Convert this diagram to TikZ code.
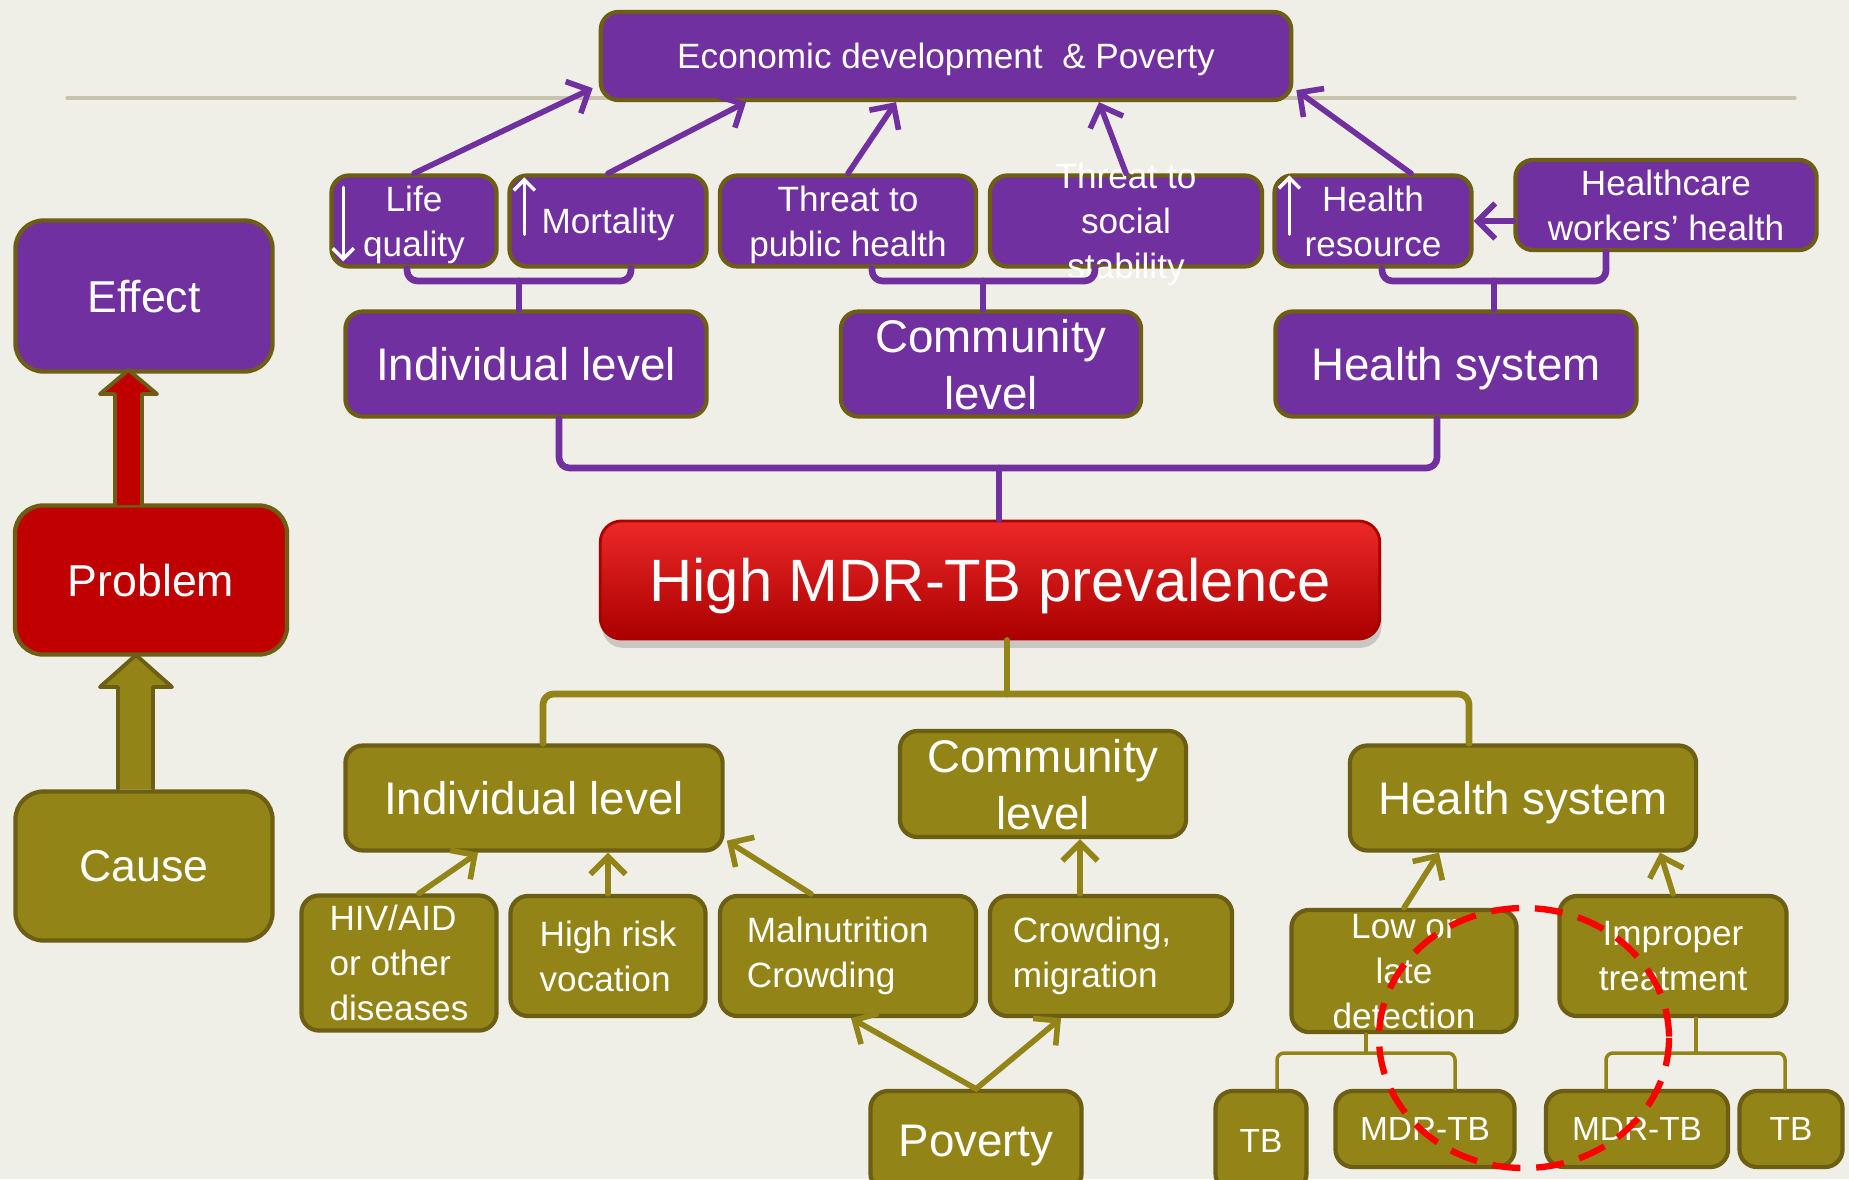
\documentclass[tikz,border=0pt]{standalone}
\usepackage{fontspec}
\setmainfont{Liberation Sans}
\usepackage{tikz}
\usetikzlibrary{arrows.meta,calc,shadows}

\definecolor{purp}{RGB}{112,48,160}
\definecolor{oliv}{RGB}{147,132,24}
\definecolor{rim}{RGB}{108,94,18}
\definecolor{probred}{RGB}{192,0,0}
\definecolor{hiTop}{RGB}{236,40,40}
\definecolor{hiMid}{RGB}{220,0,0}
\definecolor{hiBot}{RGB}{170,0,0}
\definecolor{paper}{RGB}{239,238,231}
\definecolor{rulegray}{RGB}{200,195,172}

\begin{document}
\begin{tikzpicture}[x=0.01cm,y=-0.01cm,line cap=round,line join=round,
    boxbase/.style={draw=rim,line width=1.2pt,rounded corners=5pt,text=white,align=center,inner sep=0pt,text depth=0pt},
    pbox/.style={boxbase,fill=purp},
    obox/.style={boxbase,fill=oliv},
    txtS/.style={font=\fontsize{10}{12.8}\selectfont},
    txtL/.style={font=\fontsize{13}{16.2}\selectfont},
    txtT/.style={font=\fontsize{9.5}{12}\selectfont},
    txtSide/.style={font=\fontsize{12.7}{15}\selectfont,rounded corners=8pt},
    hbox/.style={draw=hiBot,line width=0.8pt,rounded corners=6pt,text=white,inner sep=0pt,text depth=0pt,
      top color=hiTop,middle color=hiMid,bottom color=hiBot,
      drop shadow={opacity=0.35,shadow xshift=0.5pt,shadow yshift=-2.5pt},
      font=\fontsize{17}{20}\selectfont},
    pline/.style={draw=purp,line width=1.9pt,rounded corners=3pt},
    oline/.style={draw=oliv,line width=1.9pt,rounded corners=3pt},
    othin/.style={draw=oliv,line width=1pt,rounded corners=2pt},
    parrow/.style={draw=purp,line width=1.6pt,-{Straight Barb[length=5pt,width=10pt]}},
    oarrow/.style={draw=oliv,line width=1.6pt,-{Straight Barb[length=5pt,width=10pt]}},
    warrow/.style={draw=white,line width=1pt,-{Straight Barb[length=3pt,width=6pt]}}]

  \useasboundingbox (0,0) rectangle (1849,1179);
  \fill[paper] (0,0) rectangle (1849,1179);
  \draw[rulegray,line width=0.9pt] (67,98) -- (1795,98);

  % effects
  \node[pbox,txtS,minimum width=6.9cm,minimum height=0.88cm] (econ) at (946,56) {Economic development\ \ \& Poverty};
  \node[pbox,txtS,minimum width=1.65cm,minimum height=0.91cm] (life) at (414,221) {Life\\quality};
  \node[pbox,txtS,minimum width=1.97cm,minimum height=0.91cm] (mort) at (608,221) {Mortality};
  \node[pbox,txtS,minimum width=2.56cm,minimum height=0.91cm] (pub) at (848,221) {Threat to\\public health};
  \node[pbox,minimum width=2.72cm,minimum height=0.91cm] (soc) at (1126,221) {};
  \node[txtS,text=white,align=center,inner sep=0pt,text depth=0pt] (soctxt) at (soc) {Threat to\\social\\stability};
  \node[pbox,txtS,minimum width=1.97cm,minimum height=0.91cm] (hres) at (1373,221) {Health\\resource};
  \node[pbox,txtS,minimum width=3.01cm,minimum height=0.90cm] (hcw) at (1666,205) {Healthcare\\workers’ health};

  \node[pbox,txtL,minimum width=3.61cm,minimum height=1.05cm] (indP) at (526,364) {Individual level};
  \node[pbox,txtL,minimum width=3.00cm,minimum height=1.05cm] (comP) at (991,364) {Community\\level};
  \node[pbox,txtL,minimum width=3.61cm,minimum height=1.05cm] (hsysP) at (1456,364) {Health system};

  \node[hbox,minimum width=7.79cm,minimum height=1.18cm] (high) at (990,580) {High MDR-TB prevalence};

  % causes
  \node[obox,txtL,minimum width=3.77cm,minimum height=1.05cm] (indO) at (534,798) {Individual level};
  \node[obox,txtL,minimum width=2.86cm,minimum height=1.06cm] (comO) at (1043,784) {Community\\level};
  \node[obox,txtL,minimum width=3.46cm,minimum height=1.05cm] (hsysO) at (1523,798) {Health system};

  \node[obox,txtS,align=left,minimum width=1.95cm,minimum height=1.35cm] (hiv) at (399,963) {HIV/AID\\or other\\diseases};
  \node[obox,txtS,align=left,minimum width=1.95cm,minimum height=1.20cm] (risk) at (608,956) {High risk\\vocation};
  \node[obox,txtS,align=left,text width=2.02cm,text depth=,minimum width=2.56cm,minimum height=1.20cm] (maln) at (848,956) {Malnutrition\\Crowding};
  \node[obox,txtS,align=left,text width=1.96cm,text depth=,minimum width=2.42cm,minimum height=1.20cm] (crowd) at (1111,956) {Crowding,\\migration};
  \node[obox,txtL,minimum width=2.11cm,minimum height=1.00cm] (pov) at (976,1141) {Poverty};
  \node[obox,txtS,minimum width=2.25cm,minimum height=1.22cm] (low) at (1404,971) {Low or\\late\\detection};
  \node[obox,txtS,minimum width=2.27cm,minimum height=1.20cm] (impr) at (1673,956) {Improper\\treatment};
  \node[obox,txtT,minimum width=0.91cm,minimum height=1.00cm] (tbA) at (1261,1141) {TB};
  \node[obox,txtT,minimum width=1.79cm,minimum height=0.76cm] (mdrA) at (1425,1129) {MDR-TB};
  \node[obox,txtT,minimum width=1.82cm,minimum height=0.76cm] (mdrB) at (1637,1129) {MDR-TB};
  \node[obox,txtT,minimum width=1.03cm,minimum height=0.76cm] (tbB) at (1791,1129) {TB};

  % legend column
  \node[pbox,txtSide,minimum width=2.57cm,minimum height=1.51cm] (effect) at (144,296) {Effect};
  \node[boxbase,fill=probred,txtSide,minimum width=2.72cm,minimum height=1.49cm] (prob) at (151,580) {Problem};
  \node[obox,txtSide,minimum width=2.57cm,minimum height=1.49cm] (cause) at (144,866) {Cause};
  \draw[rim,fill=probred,line width=1.1pt] (115,505) -- (115,394) -- (100,394) -- (128.5,370) -- (157,394) -- (142,394) -- (142,505);
  \draw[rim,fill=oliv,line width=1.1pt] (118,789) -- (118,687) -- (100,687) -- (136,655) -- (172,687) -- (153,687) -- (153,789);

  % brackets
  \coordinate (bA) at (519,281);
  \draw[pline] (407,0 |- life.south) |- (bA) -| (631,0 |- mort.south);
  \draw[pline] (bA) -- (bA |- indP.north);
  \coordinate (bB) at (983,281);
  \draw[pline] (872,0 |- pub.south) |- (bB) -| (1095,0 |- soc.south);
  \draw[pline] (bB) -- (bB |- comP.north);
  \coordinate (bC) at (1494,281);
  \draw[pline] (1382,0 |- hres.south) |- (bC) -| (1606,0 |- hcw.south);
  \draw[pline] (bC) -- (bC |- hsysP.north);
  \coordinate (bD) at (999,468);
  \draw[pline] (559,0 |- indP.south) |- (bD) -| (1437,0 |- hsysP.south);
  \draw[pline] (bD) -- (bD |- high.north);
  \coordinate (bE) at (1007,694);
  \draw[oline] (bE |- high.south) -- (bE);
  \draw[oline] (543,0 |- indO.north) |- (bE) -| (1469,0 |- hsysO.north);
  \coordinate (bF) at (1366,1053);
  \draw[othin] (bF |- low.south) -- (bF);
  \draw[othin] (1277,0 |- tbA.north) |- (bF) -| (1455,0 |- mdrA.north);
  \coordinate (bG) at (1696,1053);
  \draw[othin] (bG |- impr.south) -- (bG);
  \draw[othin] (1606,0 |- mdrB.north) |- (bG) -| (1785,0 |- tbB.north);

  % arrows up
  \draw[parrow] (life.north) -- ($(econ.south west)+(-6,-14)$);
  \draw[parrow] (mort.north) -- (746,0 |- econ.south);
  \draw[parrow] (pub.north) -- (896,0 |- econ.south);
  \draw[parrow] (soc.north) -- (1099,0 |- econ.south);
  \draw[parrow] ($(hres.north)+(38,0)$) -- ($(econ.south east)+(3,-12)$);
  \draw[parrow] (hcw.west |- hres.east) -- (hres.east);
  \draw[oarrow] ($(hiv.north)+(20,0)$) -- (478,0 |- indO.south);
  \draw[oarrow] (risk.north) -- (risk.north |- indO.south);
  \draw[oarrow] ($(maln.north)+(-37,0)$) -- ($(indO.south east)+(2,-12)$);
  \draw[oarrow] ($(crowd.north)+(-31,0)$) -- (1080,0 |- comO.south);
  \draw[oarrow] (pov.north) -- (851,0 |- maln.south);
  \draw[oarrow] (pov.north) -- (1061,0 |- crowd.south);
  \draw[oarrow] (low.north) -- (1439,0 |- hsysO.south);
  \draw[oarrow] (impr.north) -- (1660,0 |- hsysO.south);

  % small up/down marks
  \draw[warrow] ($(life.north west)+(14,14)$) -- ($(life.north west)+(14,88)$);
  \draw[warrow] ($(mort.north west)+(17,61)$) -- ($(mort.north west)+(17,4)$);
  \draw[warrow] ($(hres.north west)+(17,61)$) -- ($(hres.north west)+(17,2)$);

  \draw[red,line width=1.8pt,dash pattern=on 8pt off 4.5pt,line cap=butt] (1524,1038) ellipse [x radius=145,y radius=130];
\end{tikzpicture}
\end{document}
